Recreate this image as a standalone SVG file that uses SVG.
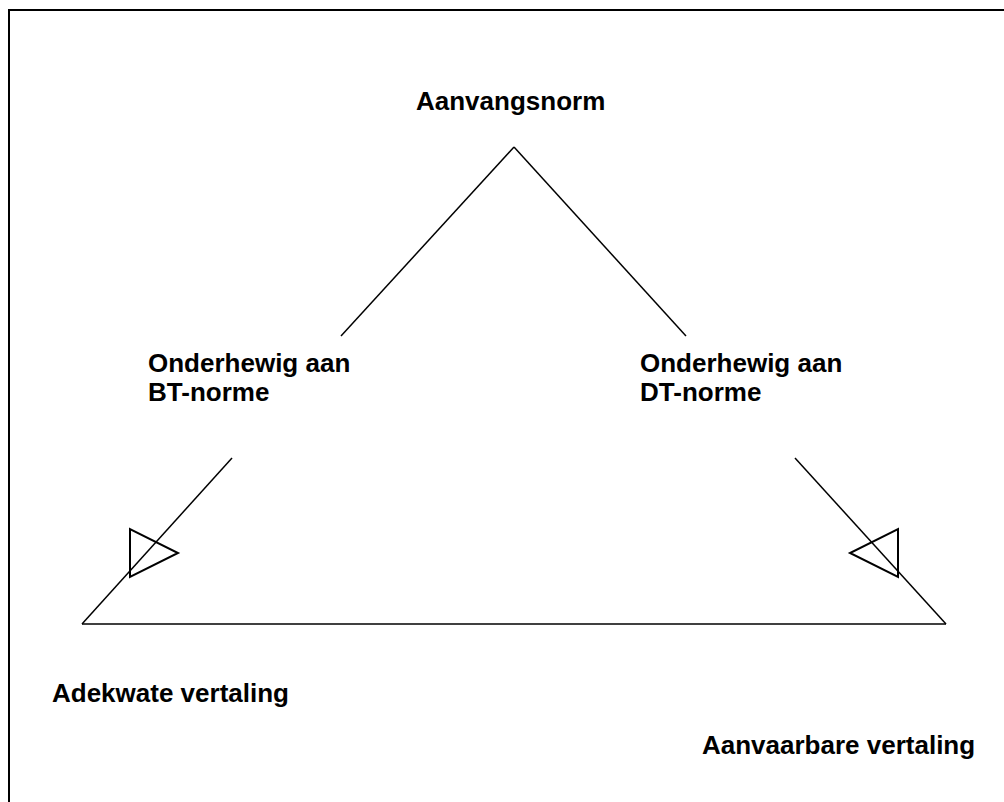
<svg xmlns="http://www.w3.org/2000/svg" width="1004" height="802" viewBox="0 0 1004 802">
<style>
.t{font-family:"Liberation Sans",Arial,sans-serif;font-weight:bold;font-size:26px;fill:#000}
.l{stroke:#000;stroke-width:1.5;fill:none}
.h{stroke:#000;stroke-width:2;fill:none}
</style>
<rect x="0" y="0" width="1004" height="802" fill="#fff"/>
<path d="M9,810 V10 H1010" stroke="#000" stroke-width="2" fill="none"/>
<g id="connectors">
<line class="l" x1="514" y1="147" x2="341" y2="336"/>
<line class="l" x1="514" y1="147" x2="686" y2="336"/>
<line class="l" x1="232" y1="458" x2="82" y2="624"/>
<line class="l" x1="795" y1="458" x2="946" y2="624"/>
<line class="l" x1="82" y1="624" x2="946" y2="624"/>
<polygon class="h" points="130,529 130,577 178,553"/>
<polygon class="h" points="898,529 898,577 850,553"/>
</g>
<g id="top"><text class="t" x="416" y="110">Aanvangsnorm</text></g>
<g id="left"><text class="t" x="148" y="372">Onderhewig aan</text><text class="t" x="148" y="401">BT-norme</text></g>
<g id="right"><text class="t" x="640" y="372">Onderhewig aan</text><text class="t" x="640" y="401">DT-norme</text></g>
<g id="bl"><text class="t" x="52" y="702">Adekwate vertaling</text></g>
<g id="br"><text class="t" x="702" y="754">Aanvaarbare vertaling</text></g>
</svg>
